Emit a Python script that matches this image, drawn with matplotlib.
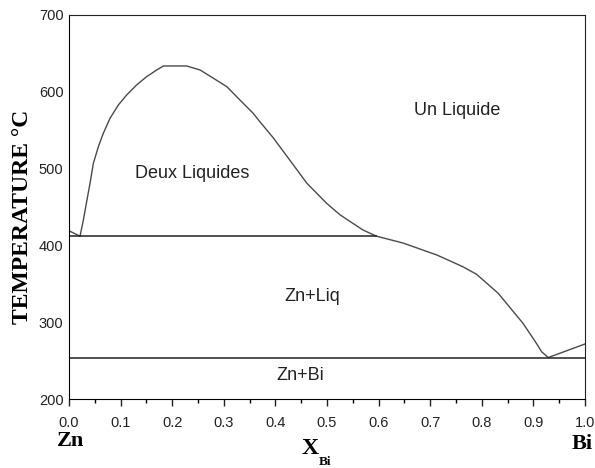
import matplotlib.pyplot as plt
import numpy as np

# diagramme Zn-Bi
dome_x = [0.0213, 0.0278, 0.0342, 0.0407, 0.0472, 0.0569, 0.0665, 0.0795, 0.0956,
          0.1117, 0.131, 0.1505, 0.170, 0.183, 0.228, 0.254, 0.280, 0.306, 0.331,
          0.357, 0.370, 0.396, 0.428, 0.461, 0.499, 0.525, 0.545, 0.570, 0.596]
dome_T = [412, 433, 456.9, 480.8, 506.9, 528.6, 546, 565.5, 582.8,
          595.8, 608.9, 619.7, 628.4, 633.6, 633.6, 628.4, 617.6, 606.6, 589.5,
          572, 561, 540, 511, 481, 455, 440, 431, 420, 412]
liq_x = [0.596, 0.648, 0.713, 0.738, 0.764, 0.790, 0.810, 0.832, 0.848, 0.864,
         0.880, 0.893, 0.906, 0.916, 0.929, 1.0]
liq_T = [412, 403, 387.5, 380, 372, 362.4, 350.6, 337.6, 324.6, 311.6,
         298.6, 285.6, 272.5, 261.6, 254, 271.6]
zn_x = [0.0, 0.0213]
zn_T = [419, 412]
T_mono = 412
T_eut = 254
x_mono = 0.596

labels = ["Un Liquide", "Deux Liquides", "Zn+Liq", "Zn+Bi"]
label_x = [0.752, 0.238, 0.471, 0.448]
label_T = [576, 494, 333, 230]

plt.rcParams['font.family'] = ['Liberation Sans', 'DejaVu Sans']
fig = plt.figure(figsize=(5.95, 4.68), dpi=100)
ax = fig.add_axes([0.116, 0.1474, 0.867, 0.8206])

curve_col = '#4a4a4a'
ax.plot(dome_x, dome_T, color=curve_col, lw=1)
ax.plot(liq_x, liq_T, color=curve_col, lw=1)
ax.plot(zn_x, zn_T, color=curve_col, lw=1)
ax.plot([0, x_mono], [T_mono, T_mono], color='#222222', lw=1.1)
ax.plot([0, 1], [T_eut, T_eut], color='#222222', lw=1.1)

for s, x, t in zip(labels, label_x, label_T):
    ax.text(x, t, s, ha='center', va='center', fontsize=13, color='#222222')

ax.set_xlim(0, 1)
ax.set_ylim(200, 700)
ax.set_xticks(np.arange(0, 1.01, 0.1))
ax.set_xticks(np.arange(0.05, 1.0, 0.1), minor=True)
ax.set_xticklabels(['%.1f' % v for v in np.arange(0, 1.01, 0.1)])
ax.set_yticks([200, 300, 400, 500, 600, 700])
ax.tick_params(axis='x', which='major', length=5, width=1, pad=7, labelsize=10.5, colors='#222222')
ax.tick_params(axis='x', which='minor', length=3, width=1)
ax.tick_params(axis='y', length=0, pad=4, labelsize=10.5, colors='#222222')
ax.spines['top'].set_color('#222222')
ax.spines['right'].set_color('#222222')

serif = ['Liberation Serif', 'DejaVu Serif']
ax.set_ylabel('TEMPERATURE °C', family=serif, fontweight='bold', fontsize=17)
ax.yaxis.set_label_coords(-0.070, 0.473)
fig.text(70 / 595, 1 - 441 / 468, 'Zn', family=serif, fontweight='bold', fontsize=16, ha='center', va='center')
fig.text(582 / 595, 1 - 444 / 468, 'Bi', family=serif, fontweight='bold', fontsize=16, ha='center', va='center')
fig.text(310 / 595, 1 - 449 / 468, 'X', family=serif, fontweight='bold', fontsize=17, ha='center', va='center')
fig.text(319 / 595, 1 - 462 / 468, 'Bi', family=serif, fontweight='bold', fontsize=9.5, ha='left', va='center')

plt.savefig('out.png', dpi=100)
